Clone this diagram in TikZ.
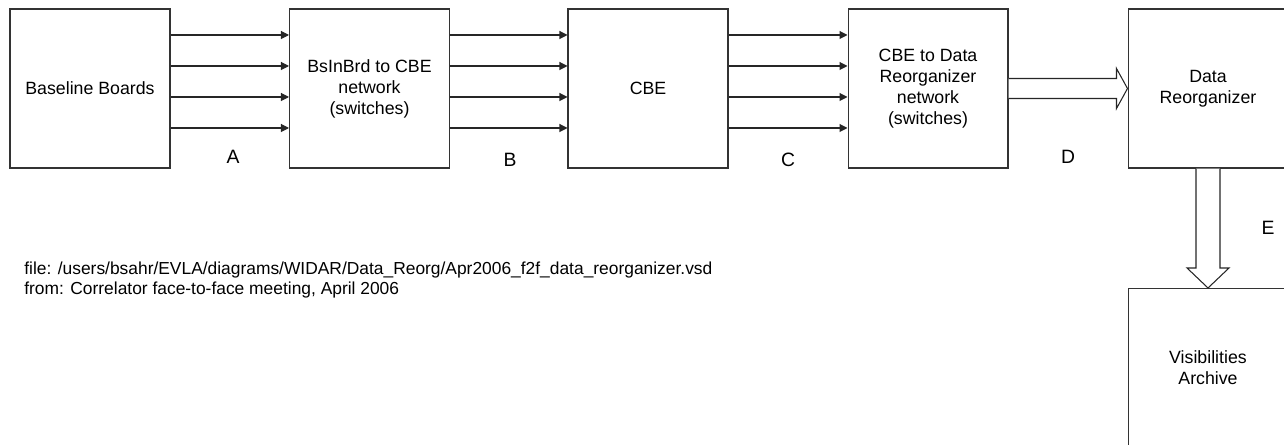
\documentclass[tikz,border=0pt]{standalone}
\usepackage{fontspec}
\setmainfont{Liberation Sans}
\usetikzlibrary{arrows.meta}
\begin{document}
\begin{tikzpicture}[x=0.02cm,y=-0.02cm,
  every node/.style={font=\fontsize{10.1}{12}\selectfont},
  box/.style={draw=black!80,line width=0.6pt,minimum width=3.2cm,minimum height=3.18cm,align=center,inner sep=0pt},
  link/.style={draw=black!85,line width=0.6pt,-{Triangle[length=0.16cm,width=0.16cm]}},
  fat/.style={draw=black!85,line width=0.6pt,fill=white},
  tag/.style={font=\fontsize{11}{13}\selectfont}]
  \clip (0,0) rectangle (1284,445);
  % blocks
  \node[box] (bb) at (90,88.5) {Baseline Boards};
  \node[box] (sw1) at (369.5,88.5) {BsInBrd to CBE\\network\\(switches)};
  \node[box] (cbe) at (648,88.5) {CBE};
  \node[box] (sw2) at (928,88.5) {CBE to Data\\Reorganizer\\network\\(switches)};
  \node[box] (dr) at (1208,88.5) {Data\\Reorganizer};
  \node[box] (va) at (1208,368) {Visibilities\\Archive};
  % four links between blocks
  \foreach \a/\b in {bb/sw1,sw1/cbe,cbe/sw2}
    \foreach \y in {-53.5,-22.5,8.5,39.5}
      \draw[link] ([shift={(0,\y)}]\a.east) -- ([shift={(0,\y)}]\b.west);
  % fat arrows
  \draw[fat] ([shift={(0,-10)}]sw2.east) -- ([shift={(-11,-10)}]dr.west) -- ([shift={(-11,-20)}]dr.west)
    -- (dr.west) -- ([shift={(-11,20)}]dr.west) -- ([shift={(-11,10)}]dr.west) -- ([shift={(0,10)}]sw2.east);
  \draw[fat] ([shift={(-12,0)}]dr.south) -- ([shift={(-12,-20)}]va.north) -- ([shift={(-21,-20)}]va.north)
    -- (va.north) -- ([shift={(21,-20)}]va.north) -- ([shift={(12,-20)}]va.north) -- ([shift={(12,0)}]dr.south);
  % link names
  \node[tag] (la) at (233,157) {A};
  \node[tag] (lb) at (510,160) {B};
  \node[tag] (lc) at (788,160) {C};
  \node[tag] (ld) at (1068,157) {D};
  \node[tag] (le) at (1268,228) {E};
  \node[anchor=west,align=left,inner sep=0pt,font=\fontsize{9.9}{11.5}\selectfont] (note) at (24,280) {file: /users/bsahr/EVLA/diagrams/WIDAR/Data\_Reorg/Apr2006\_f2f\_data\_reorganizer.vsd\\from: Correlator face-to-face meeting, April 2006};
\end{tikzpicture}
\end{document}
